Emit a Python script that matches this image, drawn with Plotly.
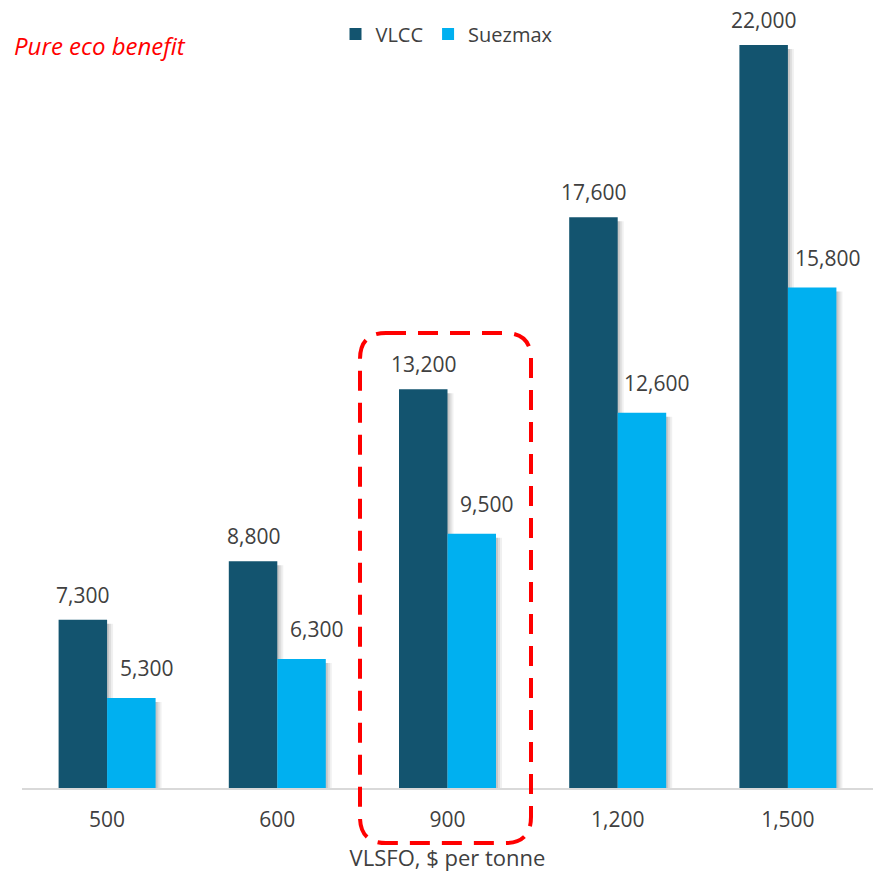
import plotly.graph_objects as go

categories = ["500", "600", "900", "1,200", "1,500"]
vlcc = [7300, 8800, 13200, 17600, 22000]
suezmax = [5300, 6300, 9500, 12600, 15800]
series_names = ["VLCC", "Suezmax"]
x_title = "VLSFO, $ per tonne"
note_text = "Pure eco benefit"

VLCC_COLOR = "#13546F"
SUEZ_COLOR = "#00B0F0"
TEXT_COLOR = "#404040"
FONT = "Open Sans"

W, H = 874, 872
ML, MR, MT, MB = 22, 1, 6, 84
plot_w = W - ML - MR
plot_h = H - MT - MB
ymin, ymax = 3000, 23000
cat_px = plot_w / len(categories)
bar_w = 48.5 / cat_px          # bar width in category units
px = 1.0 / cat_px               # one pixel in category units
unit_per_px = (ymax - ymin) / plot_h

fig = go.Figure()

# soft drop shadows (drawn first, behind bars)
for series, off0 in ((vlcc, -bar_w), (suezmax, 0.0)):
    for k, alpha in ((2, 0.10), (4, 0.08), (6, 0.06)):
        fig.add_trace(go.Bar(
            x=categories, y=[v - ymin - 4 * unit_per_px for v in series], base=ymin,
            width=bar_w, offset=off0 + k * px,
            marker=dict(color=f"rgba(0,0,0,{alpha})", line=dict(width=0)),
            showlegend=False, hoverinfo="skip"))

fig.add_trace(go.Bar(
    x=categories, y=[v - ymin for v in vlcc], base=ymin, name=series_names[0],
    width=bar_w, offset=-bar_w,
    marker=dict(color=VLCC_COLOR, line=dict(width=0))))
fig.add_trace(go.Bar(
    x=categories, y=[v - ymin for v in suezmax], base=ymin, name=series_names[1],
    width=bar_w, offset=0,
    marker=dict(color=SUEZ_COLOR, line=dict(width=0))))

annotations = []
half = bar_w / 2 * cat_px
for i, v in enumerate(vlcc):
    annotations.append(dict(x=i, y=v, xref="x", yref="y", text=f"{v:,}", showarrow=False,
                            xshift=-half, yshift=25, yanchor="middle",
                            font=dict(family=FONT, size=21, color=TEXT_COLOR)))
for i, v in enumerate(suezmax):
    annotations.append(dict(x=i, y=v, xref="x", yref="y", text=f"{v:,}", showarrow=False,
                            xshift=half + 15, yshift=30, yanchor="middle",
                            font=dict(family=FONT, size=21, color=TEXT_COLOR)))

def pxx(x):
    return (x - ML) / plot_w

def pxy(y):
    return (H - MB - y) / plot_h

annotations.append(dict(x=pxx(12), y=pxy(45), xref="paper", yref="paper", text=note_text,
                        showarrow=False, xanchor="left", yanchor="middle",
                        font=dict(family=FONT, size=24, color="#FF0000", style="italic")))

# dashed rounded highlight box around the 900 group
x0, x1, y0, y1, r = 360, 531, 333, 843, 26
path = (f"M{pxx(x0 + r)},{pxy(y0)} L{pxx(x1 - r)},{pxy(y0)} "
        f"Q{pxx(x1)},{pxy(y0)} {pxx(x1)},{pxy(y0 + r)} "
        f"L{pxx(x1)},{pxy(y1 - r)} Q{pxx(x1)},{pxy(y1)} {pxx(x1 - r)},{pxy(y1)} "
        f"L{pxx(x0 + r)},{pxy(y1)} Q{pxx(x0)},{pxy(y1)} {pxx(x0)},{pxy(y1 - r)} "
        f"L{pxx(x0)},{pxy(y0 + r)} Q{pxx(x0)},{pxy(y0)} {pxx(x0 + r)},{pxy(y0)} Z")

fig.update_layout(
    width=W, height=H,
    margin=dict(l=ML, r=MR, t=MT, b=MB),
    barmode="overlay",
    plot_bgcolor="white", paper_bgcolor="white",
    font=dict(family=FONT, size=20, color=TEXT_COLOR),
    showlegend=True,
    legend=dict(orientation="h", x=pxx(447), xanchor="center", y=pxy(34), yanchor="middle",
                font=dict(family=FONT, size=20, color=TEXT_COLOR), bgcolor="rgba(0,0,0,0)",
                traceorder="normal"),
    xaxis=dict(type="category", range=[-0.5, len(categories) - 0.5], autorange=False,
               showgrid=False, zeroline=False, showline=True,
               linecolor="#D9D9D9", linewidth=2, ticks="", ticklabelstandoff=12,
               tickfont=dict(family=FONT, size=21, color=TEXT_COLOR),
               title=dict(text=x_title, standoff=20,
                          font=dict(family=FONT, size=22, color=TEXT_COLOR))),
    yaxis=dict(range=[ymin, ymax], autorange=False, visible=False, showgrid=False, zeroline=False),
    annotations=annotations,
    shapes=[dict(type="path", path=path, xref="paper", yref="paper",
                 line=dict(color="#FF0000", width=4, dash="20px,12px"), layer="above")],
)

fig.write_html("out.html", config={"displayModeBar": False},
               post_script="document.body.style.margin='0';document.body.style.overflow='hidden';")
